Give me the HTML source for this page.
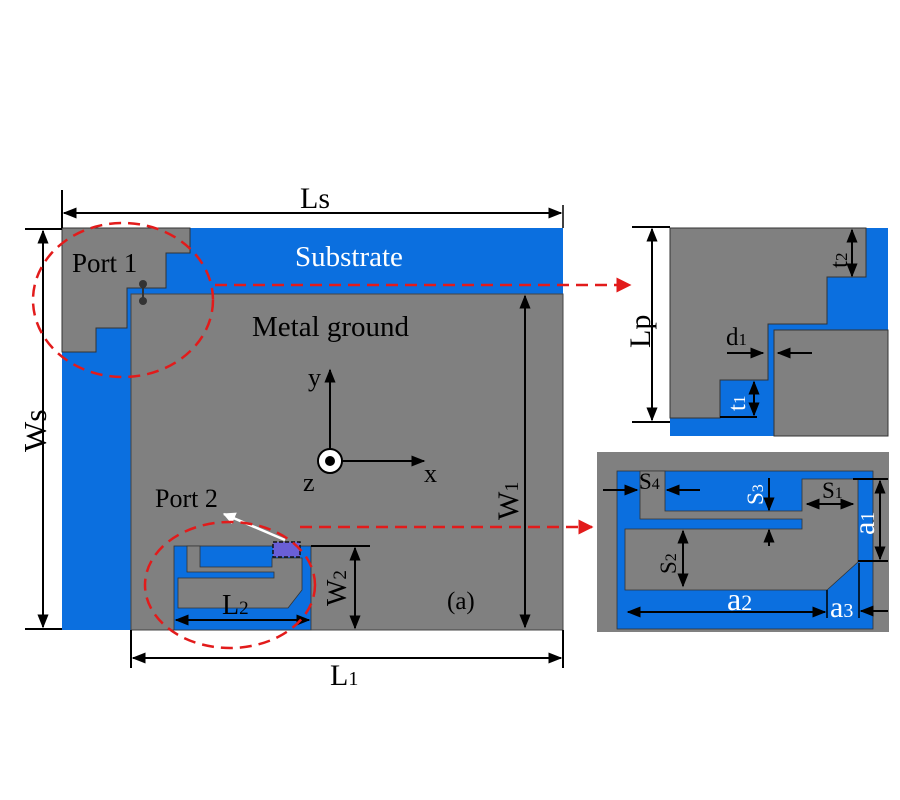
<!DOCTYPE html>
<html><head><meta charset="utf-8"><style>
html,body{margin:0;padding:0;background:#fff;}
svg{display:block;font-family:"Liberation Serif",serif;}
</style></head><body>
<svg width="900" height="800" viewBox="0 0 900 800" xmlns="http://www.w3.org/2000/svg">
<defs>
<marker id="ah" viewBox="0 0 10 10" refX="9" refY="5" markerWidth="7" markerHeight="7" orient="auto-start-reverse"><path d="M0,1 L10,5 L0,9 Z" fill="#000"/></marker>
<marker id="rh" viewBox="0 0 10 10" refX="9" refY="5" markerWidth="6" markerHeight="6" orient="auto"><path d="M0,0 L10,5 L0,10 Z" fill="#e21b1b"/></marker>
<marker id="wh" viewBox="0 0 10 10" refX="9" refY="5" markerWidth="5" markerHeight="5" orient="auto"><path d="M0,0 L10,5 L0,10 Z" fill="#fff"/></marker>
</defs>

<rect x="62" y="228" width="501" height="402" fill="#0b6fdf"/>
<path d="M62,228 H190 V253 H166 V288 H127 V328 H96 V352 H62 Z" fill="#808080" stroke="#333" stroke-width="1"/>
<rect x="131" y="294" width="432" height="336" fill="#808080" stroke="#444" stroke-width="1"/>
<rect x="174" y="546" width="137" height="84" fill="#0b6fdf" stroke="#333" stroke-width="0.8"/>
<path d="M187,546 H200 V567 H272 V558 H302 V590 L288,608 H178 V578 H274 V572 H187 Z" fill="#808080" stroke="#333" stroke-width="0.8"/>
<rect x="273" y="542" width="27" height="15" fill="#6a5fd6" stroke="#111" stroke-width="1.5" stroke-dasharray="4,2"/>
<line x1="285" y1="540" x2="224" y2="514" stroke="#fff" stroke-width="2.5" marker-end="url(#wh)"/>
<line x1="143" y1="285" x2="143" y2="301" stroke="#333" stroke-width="2"/>
<circle cx="143" cy="284" r="4" fill="#333"/><circle cx="143" cy="301" r="4" fill="#333"/>

<text x="295" y="266" font-size="29" fill="#fff">Substrate</text>
<text x="72" y="272" font-size="27" fill="#000">Port 1</text>
<text x="252" y="336" font-size="29" fill="#000">Metal ground</text>
<text x="155" y="507" font-size="26" fill="#000">Port 2</text>
<text x="447" y="609" font-size="25" fill="#000">(a)</text>

<circle cx="330" cy="461" r="12" fill="#fff" stroke="#000" stroke-width="2"/>
<circle cx="330" cy="461" r="5" fill="#000"/>
<line x1="330" y1="449" x2="330" y2="370" stroke="#000" stroke-width="2" marker-end="url(#ah)"/>
<line x1="342" y1="461" x2="424" y2="461" stroke="#000" stroke-width="2" marker-end="url(#ah)"/>
<text x="308" y="386" font-size="26">y</text>
<text x="424" y="482" font-size="26">x</text>
<text x="303" y="491" font-size="26">z</text>

<line x1="62" y1="190" x2="62" y2="228" stroke="#000" stroke-width="2"/>
<line x1="563" y1="205" x2="563" y2="228" stroke="#000" stroke-width="1.5"/>
<line x1="64" y1="213" x2="561" y2="213" stroke="#000" stroke-width="2" marker-start="url(#ah)" marker-end="url(#ah)"/>
<text x="300" y="208" font-size="30">Ls</text>
<line x1="25" y1="229" x2="62" y2="229" stroke="#000" stroke-width="2"/>
<line x1="25" y1="629" x2="62" y2="629" stroke="#000" stroke-width="2"/>
<line x1="43" y1="231" x2="43" y2="627" stroke="#000" stroke-width="2" marker-start="url(#ah)" marker-end="url(#ah)"/>
<text x="0" y="0" font-size="32" transform="translate(46,452) rotate(-90)">Ws</text>
<line x1="525" y1="296" x2="525" y2="627" stroke="#000" stroke-width="2" marker-start="url(#ah)" marker-end="url(#ah)"/>
<text x="0" y="0" font-size="30" transform="translate(518,520) rotate(-90)">W<tspan font-size="20">1</tspan></text>
<line x1="131" y1="630" x2="131" y2="668" stroke="#000" stroke-width="2"/>
<line x1="563" y1="630" x2="563" y2="668" stroke="#000" stroke-width="2"/>
<line x1="133" y1="658" x2="561" y2="658" stroke="#000" stroke-width="2" marker-start="url(#ah)" marker-end="url(#ah)"/>
<text x="330" y="685" font-size="30">L<tspan font-size="20">1</tspan></text>
<line x1="311" y1="546" x2="370" y2="546" stroke="#000" stroke-width="2"/>
<line x1="355" y1="548" x2="355" y2="628" stroke="#000" stroke-width="2" marker-start="url(#ah)" marker-end="url(#ah)"/>
<text x="0" y="0" font-size="28" transform="translate(346,606) rotate(-90)">W<tspan font-size="19">2</tspan></text>
<line x1="176" y1="620" x2="309" y2="620" stroke="#000" stroke-width="2" marker-start="url(#ah)" marker-end="url(#ah)"/>
<text x="222" y="614" font-size="28">L<tspan font-size="19">2</tspan></text>

<ellipse cx="123" cy="300" rx="90" ry="77" fill="none" stroke="#e21b1b" stroke-width="2.5" stroke-dasharray="12,7"/>
<ellipse cx="230" cy="585" rx="85" ry="63" fill="none" stroke="#e21b1b" stroke-width="2.5" stroke-dasharray="12,7"/>
<line x1="215" y1="285" x2="630" y2="285" stroke="#e21b1b" stroke-width="2.5" stroke-dasharray="12,7" marker-end="url(#rh)"/>
<line x1="300" y1="527" x2="592" y2="527" stroke="#e21b1b" stroke-width="2.5" stroke-dasharray="12,7" marker-end="url(#rh)"/>

<rect x="670" y="228" width="218" height="208" fill="#0b6fdf"/>
<path d="M670,228 H866 V277 H827 V324 H768 V380 H720 V418 H670 Z" fill="#808080" stroke="#333" stroke-width="1"/>
<rect x="774" y="330" width="114" height="106" fill="#808080" stroke="#333" stroke-width="1"/>
<line x1="632" y1="227" x2="670" y2="227" stroke="#000" stroke-width="2"/>
<line x1="632" y1="422" x2="670" y2="422" stroke="#000" stroke-width="2"/>
<line x1="652" y1="229" x2="652" y2="420" stroke="#000" stroke-width="2" marker-start="url(#ah)" marker-end="url(#ah)"/>
<text x="0" y="0" font-size="30" transform="translate(650,348) rotate(-90)">Lp</text>
<line x1="852" y1="230" x2="852" y2="276" stroke="#000" stroke-width="2" marker-start="url(#ah)" marker-end="url(#ah)"/>
<text x="0" y="0" font-size="25" transform="translate(847,268) rotate(-90)">t<tspan font-size="17">2</tspan></text>
<line x1="727" y1="353" x2="763" y2="353" stroke="#000" stroke-width="2" marker-end="url(#ah)"/>
<line x1="812" y1="353" x2="778" y2="353" stroke="#000" stroke-width="2" marker-end="url(#ah)"/>
<text x="726" y="345" font-size="25">d<tspan font-size="17">1</tspan></text>
<line x1="754" y1="382" x2="754" y2="415" stroke="#000" stroke-width="2" marker-start="url(#ah)" marker-end="url(#ah)"/>
<line x1="720" y1="417" x2="757" y2="417" stroke="#000" stroke-width="2"/>
<text x="0" y="0" font-size="25" fill="#fff" transform="translate(745,411) rotate(-90)">t<tspan font-size="17">1</tspan></text>

<rect x="597" y="452" width="292" height="180" fill="#808080"/>
<rect x="617" y="471" width="256" height="158" fill="#0b6fdf" stroke="#333" stroke-width="0.8"/>
<path d="M640,471 H665 V511 H802 V479 H858 V562 L827,590 H625 V529 H802 V519 H640 Z" fill="#808080" stroke="#333" stroke-width="0.8"/>
<line x1="603" y1="490" x2="637" y2="490" stroke="#000" stroke-width="2" marker-end="url(#ah)"/>
<line x1="700" y1="490" x2="667" y2="490" stroke="#000" stroke-width="2" marker-end="url(#ah)"/>
<text x="639" y="489" font-size="23">S<tspan font-size="16">4</tspan></text>
<line x1="769" y1="478" x2="769" y2="510" stroke="#000" stroke-width="2" marker-end="url(#ah)"/>
<line x1="769" y1="546" x2="769" y2="530" stroke="#000" stroke-width="2" marker-end="url(#ah)"/>
<text x="0" y="0" font-size="23" fill="#fff" transform="translate(763,505) rotate(-90)">S<tspan font-size="16">3</tspan></text>
<line x1="807" y1="504" x2="853" y2="504" stroke="#000" stroke-width="2" marker-start="url(#ah)" marker-end="url(#ah)"/>
<text x="822" y="498" font-size="23">S<tspan font-size="16">1</tspan></text>
<line x1="853" y1="479" x2="888" y2="479" stroke="#000" stroke-width="2"/>
<line x1="858" y1="561" x2="888" y2="561" stroke="#000" stroke-width="2"/>
<line x1="880" y1="481" x2="880" y2="559" stroke="#000" stroke-width="2" marker-start="url(#ah)" marker-end="url(#ah)"/>
<text x="0" y="0" font-size="30" fill="#fff" transform="translate(874,535) rotate(-90)">a<tspan font-size="20">1</tspan></text>
<line x1="683" y1="531" x2="683" y2="586" stroke="#000" stroke-width="2" marker-start="url(#ah)" marker-end="url(#ah)"/>
<text x="0" y="0" font-size="23" transform="translate(676,574) rotate(-90)">S<tspan font-size="16">2</tspan></text>
<line x1="628" y1="612" x2="825" y2="612" stroke="#000" stroke-width="2" marker-start="url(#ah)" marker-end="url(#ah)"/>
<line x1="827" y1="590" x2="827" y2="618" stroke="#000" stroke-width="1.5"/>
<line x1="859" y1="563" x2="859" y2="618" stroke="#000" stroke-width="1.5"/>
<line x1="888" y1="611" x2="861" y2="611" stroke="#000" stroke-width="2" marker-end="url(#ah)"/>
<text x="727" y="610" font-size="32" fill="#fff">a<tspan font-size="22">2</tspan></text>
<text x="830" y="617" font-size="30" fill="#fff">a<tspan font-size="20">3</tspan></text>
</svg>
</body></html>
